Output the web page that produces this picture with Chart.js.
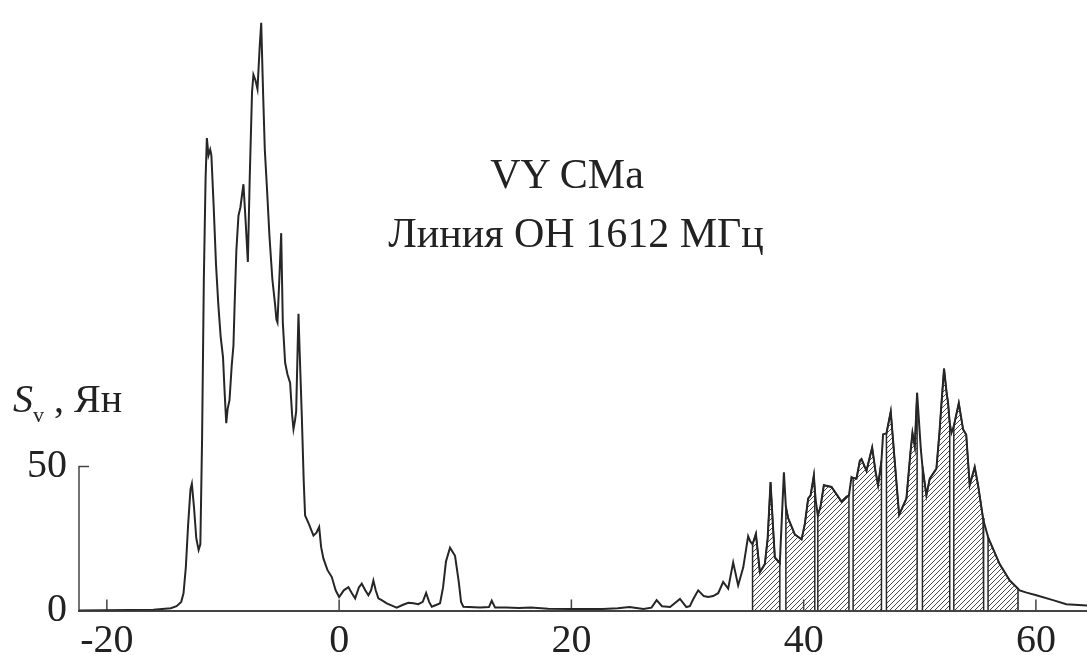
<!DOCTYPE html>
<html>
<head>
<meta charset="utf-8">
<script src="https://cdn.jsdelivr.net/npm/chart.js@4.4.1/dist/chart.umd.min.js"></script>
<style>
  html, body { margin: 0; padding: 0; background: #fff; overflow: hidden; }
  #wrap { position: relative; width: 1087px; height: 655px; }
  .lbl { position: absolute; font-family: 'Liberation Serif', 'Times New Roman', serif; color: #222; white-space: nowrap; line-height: 1; }
  .lbl sub { font-size: 22px; vertical-align: -10px; line-height: 0; }
</style>
</head>
<body>
<div id="wrap">
  <canvas id="spectrum" width="1087" height="655"></canvas>
  <div class="lbl" style="left:567px; top:153px; font-size:42px; transform:translateX(-50%);">VY CMa</div>
  <div class="lbl" style="left:576px; top:212px; font-size:42px; transform:translateX(-50%);">Линия ОН 1612 МГц</div>
  <div class="lbl" style="left:13px; top:379px; font-size:40px;"><i>S</i><sub>v</sub> , Ян</div>
</div>
<script>
// radial velocity, km/s
const velocity = [
  -22.4, -16, -14.5, -14, -13.6, -13.4, -13.2, -13.0, -12.8, -12.68, -12.5, -12.3, -12.1, -11.95,
  -11.8, -11.65, -11.5, -11.39, -11.25, -11.1, -11.0, -10.8, -10.6, -10.4, -10.2, -10.0, -9.85,
  -9.72, -9.6, -9.44, -9.25, -9.1, -9.0, -8.85, -8.67, -8.5, -8.24, -8.05, -7.86, -7.7, -7.5,
  -7.38, -7.2, -7.03, -6.85, -6.71, -6.55, -6.4, -6.22, -6.0, -5.75, -5.51, -5.4, -5.31, -5.15,
  -4.99, -4.85, -4.65, -4.45, -4.22, -4.05, -3.93, -3.8, -3.7, -3.55, -3.5, -3.4, -3.21, -3.05,
  -2.93, -2.6, -2.21, -1.95, -1.72, -1.55, -1.35, -1.0, -0.63, -0.3, 0.0, 0.4, 0.8, 1.1, 1.38,
  1.7, 1.95, 2.25, 2.52, 2.75, 2.95, 3.15, 3.38, 3.7, 4.1, 4.5, 4.96, 5.5, 5.96, 6.4, 6.82, 7.2,
  7.49, 7.75, 7.98, 8.4, 8.69, 8.95, 9.2, 9.55, 9.98, 10.3, 10.5, 10.7, 12.13, 12.9, 13.14,
  13.43, 14.4, 15.5, 16.5, 18, 19.9, 22.7, 24, 25.0, 26.2, 26.9, 27.34, 27.8, 28.5, 29.35, 29.9,
  30.2, 30.5, 30.92, 31.4, 31.78, 32.21, 32.64, 33.07, 33.5, 33.93, 34.36, 34.8, 35.22, 35.4,
  35.6, 35.89, 36.23, 36.66, 36.9, 37.15, 37.35, 37.52, 37.95, 38.3, 38.47, 38.67, 39.24, 39.82,
  40.1, 40.39, 40.6, 40.88, 40.96, 41.05, 41.22, 41.45, 41.74, 42.4, 43.26, 43.69, 43.9, 44.12,
  44.26, 44.55, 44.84, 44.98, 45.41, 45.9, 46.2, 46.41, 46.7, 46.84, 47.13, 47.5, 47.85, 48.22,
  48.85, 49.2, 49.37, 49.57, 49.77, 50.09, 50.23, 50.57, 50.86, 51.43, 51.7, 51.87, 52.09, 52.3,
  52.44, 52.58, 52.73, 52.93, 53.36, 53.73, 54.0, 54.3, 54.73, 55.02, 55.45, 55.5, 55.88, 56.02,
  56.88, 57.75, 58.46, 58.6, 59.2, 60.04, 61.47, 62.62, 64.4
];
// flux density, Jy
const flux = [
  0, 0.3, 0.8, 1.5, 3, 6, 15, 30, 42, 44, 36, 25, 21, 23,
  60, 115, 150, 164, 158, 160, 158, 140, 120, 106, 95, 88, 75,
  65, 70, 73, 85, 92, 106, 125, 137, 140, 148, 135, 121, 150, 180,
  186, 184, 181, 195, 204, 180, 160, 147, 130, 115, 106, 101, 100, 115,
  131, 100, 86, 82, 79, 68, 63, 66, 69, 95, 103, 90, 67, 45,
  33, 30, 26, 27, 29, 22, 18, 14, 11.6, 7, 4.7, 7, 8.1, 6, 4.2,
  8, 9.3, 7, 5.3, 7, 10.4, 7, 4.2, 3.5, 2.5, 1.8, 1, 2, 2.7, 2.5, 2.2, 3,
  6.1, 3, 1.3, 2, 2.5, 8, 17, 21.8, 19, 10, 3, 1.3, 1, 1.2, 3.4,
  1, 1, 0.9, 1, 0.6, 0.5, 0.5, 0.8, 1.2, 0.5, 1, 3.6, 1.5, 1.2, 4, 1.2,
  1.5, 4, 7, 5, 4.7, 5, 6, 9.9, 7.6, 16.7, 8.7, 15, 25.8, 24,
  23, 26.6, 13.3, 16.1, 25, 44.6, 30, 18.4, 16.5, 48, 36, 32, 26.4, 24.7,
  30, 38.9, 40, 46.9, 42, 38, 33, 36, 43.5, 42.9, 37.8, 39.5, 40, 46.3,
  46, 45.8, 52, 52.6, 48.5, 56.6, 48, 43.5, 52, 61.2, 61.5, 69.1, 51.5, 33.2,
  38.9, 55, 61.7, 57, 75.6, 56, 50, 40, 45.8, 49.2, 62, 72, 84, 76,
  72, 65, 61.7, 64, 72, 62.9, 61, 43.5, 49.8, 43.5, 32, 31, 25.5, 24.1,
  16.1, 10.4, 7.6, 7, 6.2, 5.3, 3.6, 2.2, 1.7
];
// hatched velocity bands (start, end)
const hatchBands = [
  [35.6, 37.95], [38.47, 40.96], [41.22, 43.9], [44.26, 46.7],
  [47.13, 49.77], [50.23, 52.58], [52.93, 55.5], [55.88, 58.46]
];
const xTicks = [-20, 0, 20, 40, 60];
const yTicks = [0, 50];

const spectrum = velocity.map((v, i) => ({ x: v, y: flux[i] }));

// hatched part: each band closed down to zero, bands split by a null point
const hatched = [];
hatchBands.forEach(([a, b]) => {
  hatched.push({ x: a, y: 0 });
  velocity.forEach((v, i) => {
    if (v >= a && v <= b) hatched.push({ x: v, y: flux[i] });
  });
  hatched.push({ x: b, y: 0 });
  hatched.push({ x: b, y: null });
});

// diagonal hatch pattern
const pc = document.createElement('canvas');
pc.width = 5; pc.height = 5;
const pctx = pc.getContext('2d');
pctx.strokeStyle = '#4a4a4a';
pctx.lineWidth = 1;
pctx.beginPath();
pctx.moveTo(0, 5); pctx.lineTo(5, 0);
pctx.moveTo(-1, 1); pctx.lineTo(1, -1);
pctx.moveTo(4, 6); pctx.lineTo(6, 4);
pctx.stroke();

const axisMarks = {
  id: 'axisMarks',
  beforeDatasetsDraw(chart) {
    const { ctx, scales: { x, y } } = chart;
    const y0 = y.getPixelForValue(0);
    const yTop = y.getPixelForValue(yTicks[yTicks.length - 1]);
    ctx.save();
    ctx.strokeStyle = '#444';
    ctx.lineWidth = 1.5;
    ctx.beginPath();
    ctx.moveTo(x.left, y0);
    ctx.lineTo(x.left, yTop);
    ctx.lineTo(x.left + 10, yTop);
    xTicks.forEach(v => {
      const px = x.getPixelForValue(v);
      ctx.moveTo(px, y0);
      ctx.lineTo(px, y0 - 11);
    });
    ctx.stroke();
    ctx.restore();
  }
};

const ctx = document.getElementById('spectrum').getContext('2d');
ctx.canvas.style.display = 'block';
const hatch = ctx.createPattern(pc, 'repeat');

new Chart(ctx, {
  type: 'line',
  data: {
    datasets: [
      {
        data: spectrum,
        borderColor: '#262626',
        borderWidth: 2,
        fill: false,
        pointRadius: 0,
        tension: 0,
        order: 0
      },
      {
        data: hatched,
        borderColor: '#262626',
        borderWidth: 1.5,
        backgroundColor: hatch,
        fill: 'origin',
        pointRadius: 0,
        tension: 0,
        spanGaps: false,
        order: 1
      }
    ]
  },
  options: {
    responsive: false,
    animation: false,
    layout: { padding: { top: 11, left: 0, right: 0, bottom: 0 } },
    plugins: {
      legend: { display: false },
      tooltip: { enabled: false }
    },
    scales: {
      x: {
        type: 'linear',
        min: -22.4,
        max: 64.4,
        afterBuildTicks: s => { s.ticks = xTicks.map(v => ({ value: v })); },
        afterFit: s => { s.height = 44.5; },
        grid: { display: false, drawTicks: false, tickLength: 0 },
        border: { display: true, color: '#444', width: 2 },
        ticks: {
          color: '#222',
          padding: 10.5,
          maxRotation: 0,
          font: { family: "'Liberation Serif', 'Times New Roman', serif", size: 40, lineHeight: 1 }
        }
      },
      y: {
        min: 0,
        max: 205,
        afterBuildTicks: s => { s.ticks = yTicks.map(v => ({ value: v })); },
        afterFit: s => { s.width = 79; },
        grid: { display: false, drawTicks: false, tickLength: 0 },
        border: { display: false },
        ticks: {
          color: '#222',
          padding: 12,
          font: { family: "'Liberation Serif', 'Times New Roman', serif", size: 40, lineHeight: 0.4 }
        }
      }
    }
  },
  plugins: [axisMarks]
});
</script>
</body>
</html>
